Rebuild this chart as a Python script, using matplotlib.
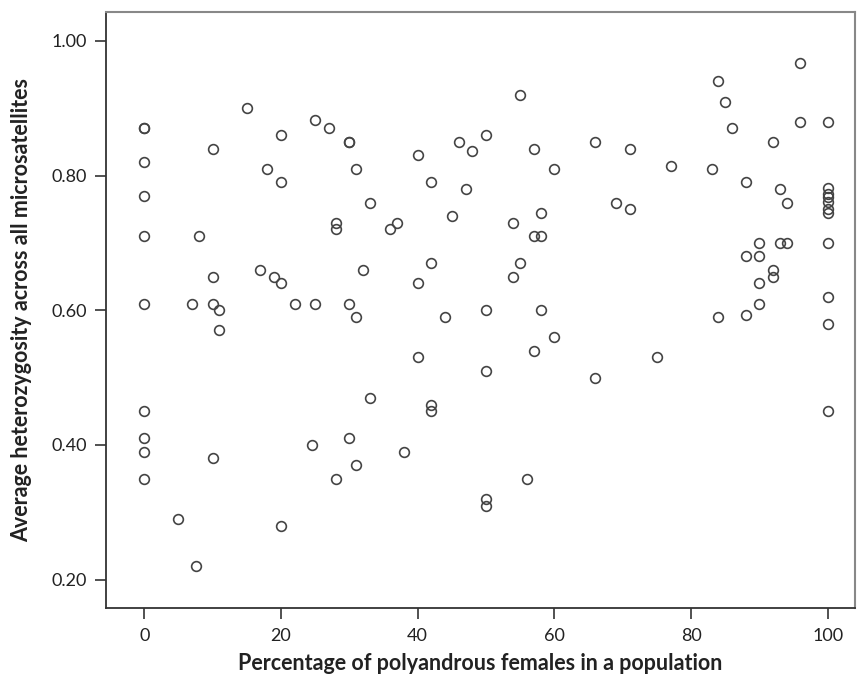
import matplotlib
matplotlib.use("Agg")
import matplotlib.pyplot as plt

# percentage of polyandrous females (x) and average heterozygosity (y)
polyandry = [
    0, 0, 0, 0, 0, 0, 0, 0, 0, 0,
    5, 7, 7.5, 8, 10, 10, 10, 10, 11, 11,
    15, 17, 18, 19, 20, 20, 20, 20, 22, 24.5,
    25, 25, 27, 28, 28, 28, 30, 30, 30, 30,
    31, 31, 31, 32, 33, 33, 36, 37, 38, 40,
    40, 40, 42, 42, 42, 42, 44, 45, 46, 47,
    48, 50, 50, 50, 50, 50, 54, 54, 55, 55,
    56, 57, 57, 57, 58, 58, 58, 60, 60, 66,
    66, 69, 71, 71, 75, 77, 83, 84, 84, 85,
    86, 88, 88, 88, 90, 90, 90, 90, 92, 92,
    92, 93, 93, 94, 94, 96, 96,
    100, 100, 100, 100, 100, 100, 100, 100, 100, 100, 100,
]
heterozygosity = [
    0.87, 0.87, 0.82, 0.77, 0.71, 0.61, 0.45, 0.41, 0.39, 0.35,
    0.29, 0.61, 0.22, 0.71, 0.84, 0.65, 0.61, 0.38, 0.60, 0.57,
    0.90, 0.66, 0.81, 0.65, 0.86, 0.79, 0.64, 0.28, 0.61, 0.40,
    0.882, 0.61, 0.87, 0.73, 0.72, 0.35, 0.85, 0.85, 0.61, 0.41,
    0.81, 0.59, 0.37, 0.66, 0.76, 0.47, 0.72, 0.73, 0.39, 0.83,
    0.64, 0.53, 0.79, 0.67, 0.46, 0.45, 0.59, 0.74, 0.85, 0.78,
    0.837, 0.86, 0.60, 0.51, 0.32, 0.31, 0.73, 0.65, 0.92, 0.67,
    0.35, 0.84, 0.71, 0.54, 0.745, 0.71, 0.60, 0.81, 0.56, 0.85,
    0.50, 0.76, 0.84, 0.75, 0.53, 0.814, 0.81, 0.94, 0.59, 0.91,
    0.87, 0.79, 0.68, 0.593, 0.70, 0.68, 0.64, 0.61, 0.85, 0.66,
    0.65, 0.78, 0.70, 0.76, 0.70, 0.967, 0.88,
    0.88, 0.781, 0.773, 0.768, 0.761, 0.751, 0.745, 0.70, 0.62, 0.58, 0.45,
]

x_ticks = [0, 20, 40, 60, 80, 100]
y_ticks = [0.20, 0.40, 0.60, 0.80, 1.00]

plt.rcParams['font.family'] = ['Lato', 'DejaVu Sans']

fig = plt.figure(figsize=(8.62, 6.78), dpi=100)
ax = fig.add_axes([0.123, 0.103, 0.869, 0.879])

ax.plot(polyandry, heterozygosity, 'o', markersize=7, markerfacecolor='none',
        markeredgecolor='#444444', markeredgewidth=1.2, linestyle='none')

ax.set_xlim(-5.6, 104.0)
ax.set_ylim(0.1577, 1.0426)
ax.set_xticks(x_ticks)
ax.set_xticklabels([str(t) for t in x_ticks])
ax.set_yticks(y_ticks)
ax.set_yticklabels(['%.2f' % t for t in y_ticks])
ax.tick_params(direction='out', length=8, width=1.2, color='#333333',
               labelsize=13, labelcolor='#222222', pad=6)

for side in ['left', 'bottom']:
    ax.spines[side].set_color('#333333')
    ax.spines[side].set_linewidth(1.3)
for side in ['top', 'right']:
    ax.spines[side].set_color('#888888')
    ax.spines[side].set_linewidth(1.5)

ax.set_xlabel('Percentage of polyandrous females in a population',
              fontsize=15.5, fontweight='bold', color='#222222', labelpad=7)
ax.set_ylabel('Average heterozygosity across all microsatellites',
              fontsize=15.5, fontweight='bold', color='#222222', labelpad=14)

fig.savefig('out.png', dpi=100)
